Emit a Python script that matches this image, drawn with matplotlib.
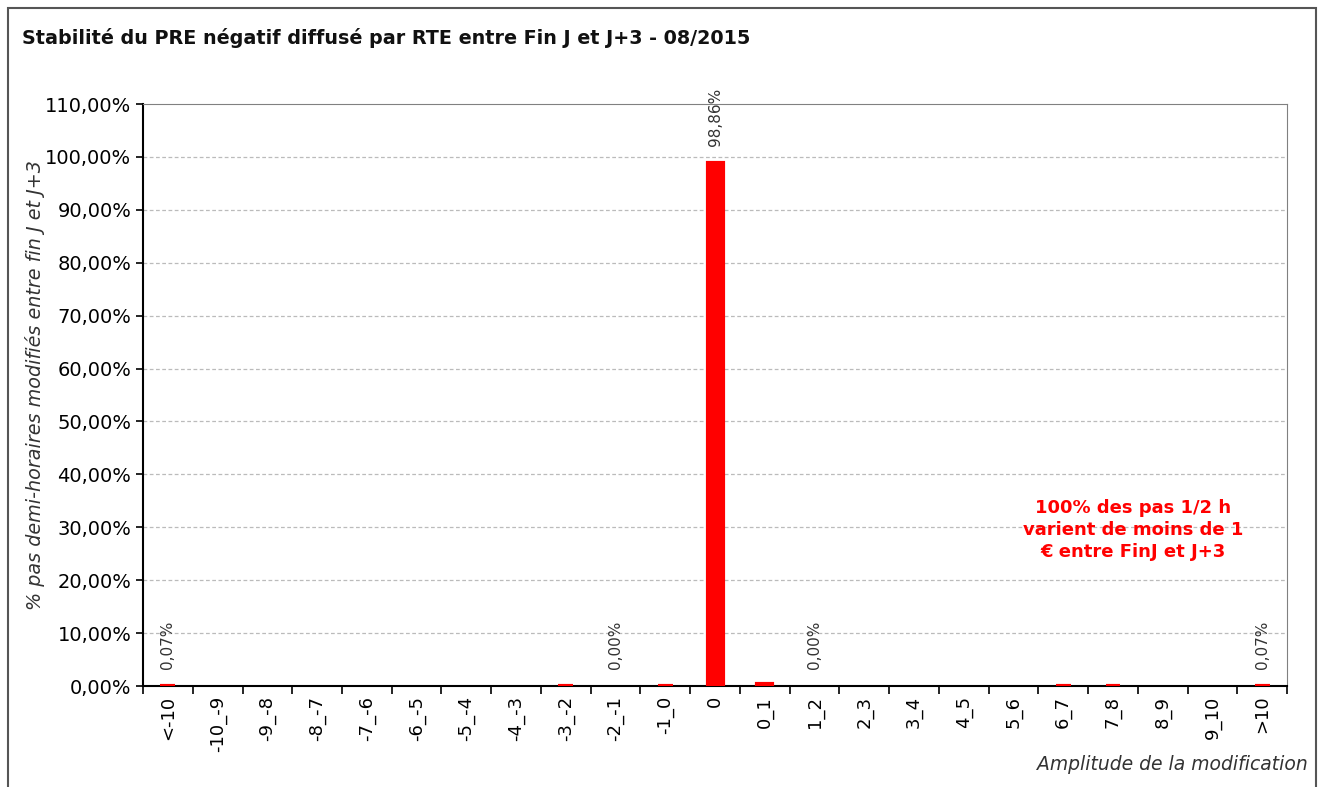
import matplotlib.pyplot as plt
import matplotlib.patches as patches
import numpy as np

categories = ["<-10", "-10_-9", "-9_-8", "-8_-7", "-7_-6", "-6_-5", "-5_-4", "-4_-3",
              "-3_-2", "-2_-1", "-1_0", "0", "0_1", "1_2", "2_3", "3_4", "4_5",
              "5_6", "6_7", "7_8", "8_9", "9_10", ">10"]
values = [0.07, 0, 0, 0, 0, 0, 0, 0, 0.07, 0, 0.07, 98.86, 0.35, 0,
          0, 0, 0, 0, 0.07, 0.07, 0, 0, 0.07]
labelled = ["<-10", "-2_-1", "0", "1_2", ">10"]

plt.rcParams['font.family'] = 'DejaVu Sans'

fig = plt.figure(figsize=(13.21, 7.87), dpi=100)
ax = fig.add_axes([0.1083, 0.1283, 0.866, 0.7395])

x = np.arange(len(categories))
lw = [3 if v > 0 else 0 for v in values]
ax.bar(x, values, width=0.3, color='#ff0000', edgecolor='#ff0000', linewidth=lw, zorder=4)

for i, c in enumerate(categories):
    if c in labelled:
        ax.annotate(("%.2f%%" % values[i]).replace(".", ","), (x[i], values[i]),
                    xytext=(0, 12), textcoords='offset points', rotation=90,
                    ha='center', va='bottom', fontsize=11, color='#333333')

ax.set_xlim(-0.5, len(categories) - 0.5)
ax.set_ylim(0, 110)
yt = np.arange(0, 111, 10)
ax.set_yticks(yt)
ax.set_yticklabels([("%.2f%%" % v).replace(".", ",") for v in yt], fontsize=14)
ax.set_xticks(x)
ax.set_xticklabels(categories, rotation=90, fontsize=13)
ax.tick_params(axis='x', length=0, pad=7)
ax.set_xticks(np.arange(-0.5, len(categories)), minor=True)
ax.tick_params(axis='x', which='minor', length=6, width=1.2, direction='out')
ax.tick_params(axis='y', length=5, width=1.2, direction='out')

for v in yt[1:-1]:
    ax.axhline(v, color='#bbbbbb', linestyle=(0, (3, 2)), linewidth=0.9, zorder=1)

ax.spines['left'].set_linewidth(1.5)
ax.spines['bottom'].set_linewidth(1.5)
ax.spines['top'].set_color('#808080')
ax.spines['right'].set_color('#808080')

fig.text(0.0265, 0.511, "% pas demi-horaires modifiés entre fin J et J+3", rotation=90,
         ha='center', va='center', fontsize=13.8, style='italic', color='#333333')
fig.text(0.99, 0.028, "Amplitude de la modification", ha='right', va='center',
         fontsize=13.5, style='italic', color='#333333')

fig.text(0.017, 0.952, "Stabilité du PRE négatif diffusé par RTE entre Fin J et J+3 - 08/2015",
         ha='left', va='center', fontsize=13.8, fontweight='bold', color='#111111')

ax.text(19.4, 29.5, "100% des pas 1/2 h\nvarient de moins de 1\n€ entre FinJ et J+3",
        ha='center', va='center', fontsize=13, fontweight='bold', color='#ff0000',
        linespacing=1.3)

fig.patches.append(patches.Rectangle((0.006, -0.05), 0.99, 1.04, transform=fig.transFigure,
                                     fill=False, edgecolor='#555555', linewidth=1.5))

fig.savefig("out.png", dpi=100)
